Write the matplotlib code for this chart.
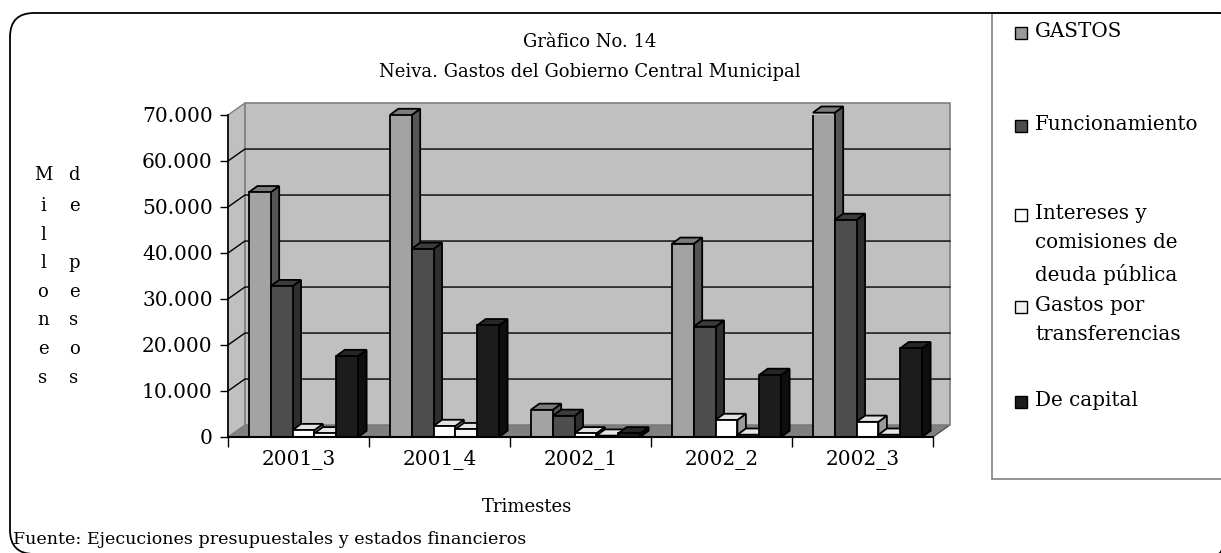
import numpy as np
import matplotlib.pyplot as plt
from matplotlib.patches import FancyBboxPatch, Rectangle
from matplotlib.ticker import FuncFormatter

# datos (millones de pesos)
trimestres = ["2001_3", "2001_4", "2002_1", "2002_2", "2002_3"]
series = ["GASTOS", "Funcionamiento", "Intereses y\ncomisiones de\ndeuda pública",
          "Gastos por\ntransferencias", "De capital"]
gastos = [53200, 70000, 5900, 42000, 70500]
funcionamiento = [32800, 40900, 4600, 24000, 47200]
intereses = [1500, 2400, 800, 3700, 3300]
transferencias = [800, 1700, 300, 500, 500]
capital = [17600, 24300, 800, 13500, 19300]
valores = [gastos, funcionamiento, intereses, transferencias, capital]

# colores: frente, lado, tapa
col_frente = ["#a3a3a3", "#4d4d4d", "#ffffff", "#f8f8f8", "#1c1c1c"]
col_lado = ["#555555", "#2e2e2e", "#9a9a9a", "#b0b0b0", "#0e0e0e"]
col_tapa = ["#7c7c7c", "#3c3c3c", "#e2e2e2", "#e6e6e6", "#262626"]
col_leyenda = ["#999999", "#4d4d4d", "#ffffff", "#f0f0f0", "#1c1c1c"]

W, H = 1221, 553
plt.rcParams["font.family"] = ["DejaVu Serif"]
fs = 13

fig = plt.figure(figsize=(W / 100, H / 100), dpi=100)

# capa de fondo en pixeles para marcos y textos
bg = fig.add_axes([0, 0, 1, 1], zorder=0)
bg.set_xlim(0, W)
bg.set_ylim(H, 0)
bg.axis("off")
bg.add_patch(Rectangle((992, 13), 260, 466, fc="none", ec="#808080", lw=1.2, clip_on=False))
bg.add_patch(FancyBboxPatch((10, 13), 1232, 541, boxstyle="round,pad=0,rounding_size=24",
                            fc="none", ec="black", lw=1.3, clip_on=False))


def px(x, y):
    return x / W, 1 - y / H


fig.text(*px(590, 42), "Gràfico No. 14", ha="center", va="center", fontsize=fs)
fig.text(*px(590, 72), "Neiva. Gastos del Gobierno Central Municipal", ha="center", va="center", fontsize=fs)
fig.text(*px(527, 507), "Trimestes", ha="center", va="center", fontsize=fs)
fig.text(*px(13, 540), "Fuente: Ejecuciones presupuestales y estados financieros", ha="left", va="center",
         fontsize=12.6)

# etiqueta vertical letra por letra
ys_lab = [175, 206, 235, 263, 292, 320, 349, 378]
for ch, y in zip("Millones", ys_lab):
    fig.text(*px(43, y), ch, ha="center", va="center", fontsize=fs)
for ch, y in zip("de pesos", ys_lab):
    fig.text(*px(74, y), ch, ha="center", va="center", fontsize=fs)

# leyenda manual
ley_y = [33, 126, 215, 307, 402]
for lab, col, y in zip(series, col_leyenda, ley_y):
    fig.patches.append(Rectangle(px(1015, y + 6), 12 / W, 12 / H, transform=fig.transFigure,
                                 fc=col, ec="black", lw=1.0))
    fig.text(*px(1035, y - 11), lab, ha="left", va="top", fontsize=14.3, linespacing=1.7)

# area del grafico 3D
x0p, x1p, y0p, y1p = 228, 933, 437, 115
ax = fig.add_axes([x0p / W, 1 - y0p / H, (x1p - x0p) / W, (y0p - y1p) / H], zorder=1)
ax.set_facecolor("none")
n = len(trimestres)
ymax = 70000
ax.set_xlim(0, n)
ax.set_ylim(0, ymax)

DX, DY = 0.12, 2600  # profundidad de las paredes
# piso
ax.fill([0, n, n + DX, DX], [0, 0, DY, DY], fc="#808080", ec="#404040", lw=0.8, clip_on=False, zorder=1)
# pared izquierda
ax.fill([0, DX, DX, 0], [0, DY, ymax + DY, ymax], fc="#c0c0c0", ec="#808080", lw=1, clip_on=False, zorder=1)
# pared del fondo
ax.fill([DX, n + DX, n + DX, DX], [DY, DY, ymax + DY, ymax + DY], fc="#c0c0c0", ec="#808080",
        lw=1.2, clip_on=False, zorder=1)
for v in range(10000, ymax, 10000):
    ax.plot([0, DX, n + DX], [v, v + DY, v + DY], color="black", lw=1, clip_on=False, zorder=2)

# barras
w = 0.155
off = 0.148
bdx, bdy = 0.06, 1350
for g in range(n):
    for s in range(len(valores)):
        v = valores[s][g]
        x = g + off + s * w
        ax.fill([x + w, x + w + bdx, x + w + bdx, x + w], [0, bdy, v + bdy, v],
                fc=col_lado[s], ec="black", lw=1.3, clip_on=False, zorder=3 + g * 10 + s)
        ax.fill([x, x + w, x + w + bdx, x + bdx], [v, v, v + bdy, v + bdy],
                fc=col_tapa[s], ec="black", lw=1.3, clip_on=False, zorder=3 + g * 10 + s)
        ax.bar(x, v, width=w, align="edge", color=col_frente[s], edgecolor="black", lw=1.3,
               zorder=3 + g * 10 + s)

# ejes
for sp in ["top", "right"]:
    ax.spines[sp].set_visible(False)
ax.spines["left"].set_linewidth(1.2)
ax.spines["bottom"].set_linewidth(1.5)
ax.spines["left"].set_zorder(100)
ax.spines["bottom"].set_zorder(100)
ax.set_yticks(range(0, ymax + 1, 10000))
ax.yaxis.set_major_formatter(FuncFormatter(lambda v, p: f"{int(v):,}".replace(",", ".")))
ax.tick_params(axis="y", direction="out", length=6, width=1, labelsize=14.5, pad=5)
ax.set_xticks(range(n + 1))
ax.set_xticklabels([])
ax.tick_params(axis="x", which="major", direction="out", length=7, width=1)
ax.set_xticks(np.arange(n) + 0.5, minor=True)
ax.set_xticklabels(trimestres, minor=True)
ax.tick_params(axis="x", which="minor", length=0, labelsize=14.5, pad=9)

fig.savefig("out.png", dpi=100)
